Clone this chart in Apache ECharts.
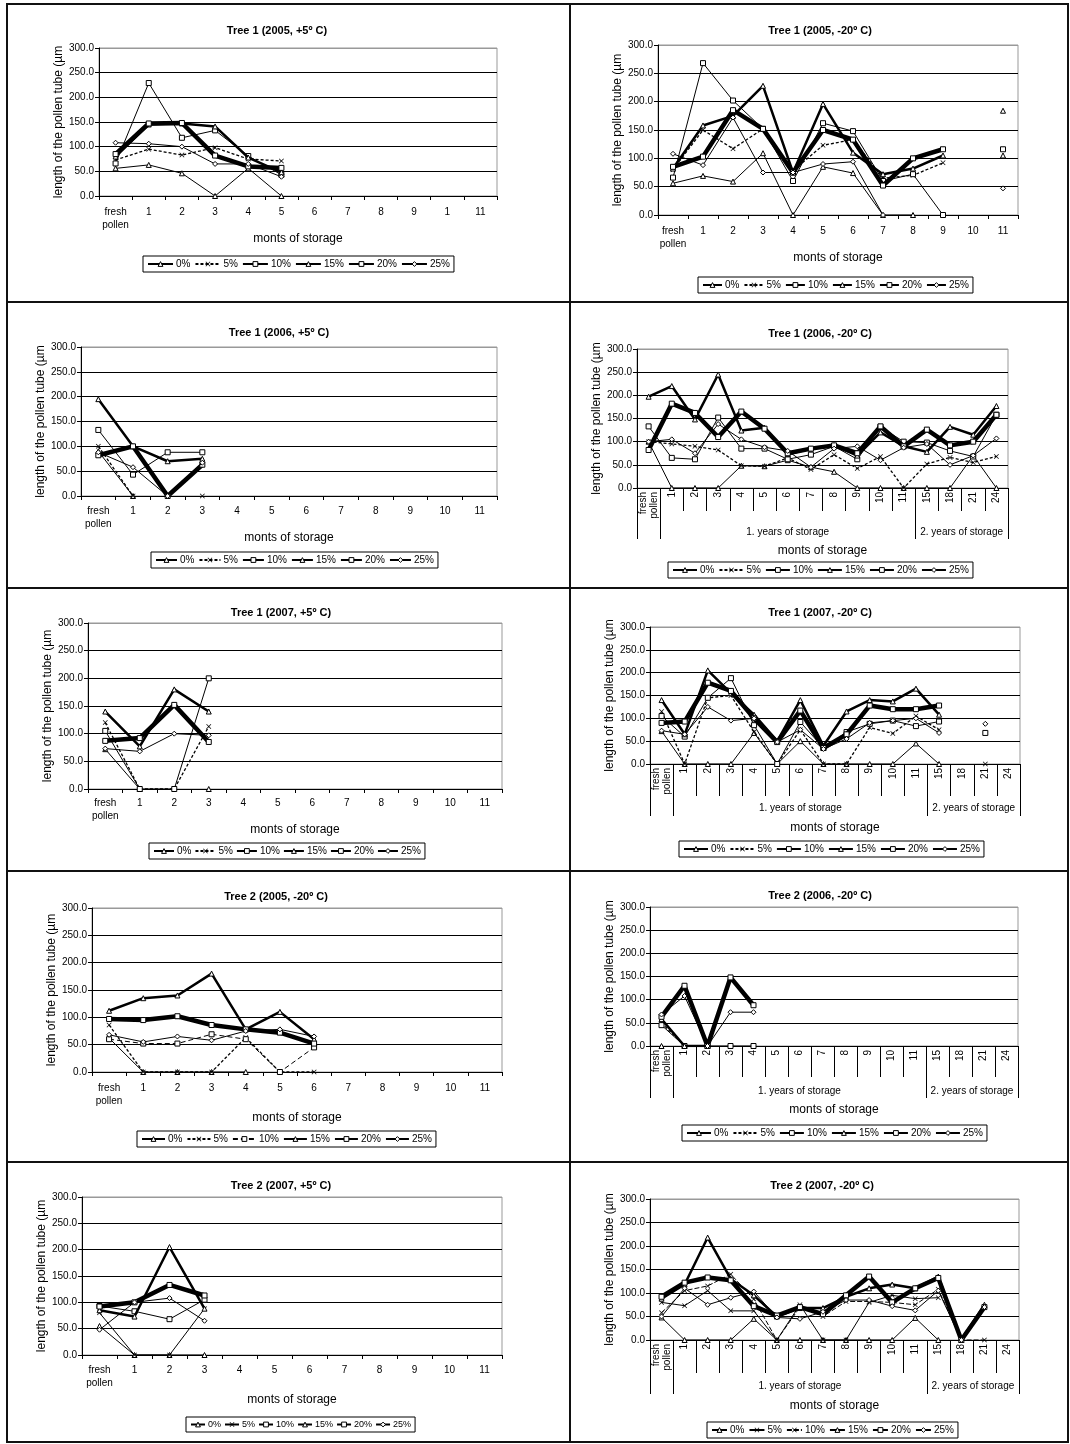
<!DOCTYPE html>
<html><head><meta charset="utf-8">
<script src="https://cdn.jsdelivr.net/npm/echarts@6/dist/echarts.min.js"></script>
<style>html,body{margin:0;padding:0;background:#fff}#c{width:1070px;height:1444px}</style>
</head><body><div id="c"></div>
<script>
// ---------- categories / tick labels ----------
const monthsA = ['fresh\npollen','1','2','3','4','5','6','7','8','9','10','11'];
const monthsTypo = ['fresh\npollen','1','2','3','4','5','6','7','8','9','1','11'];
const monthsLong = ['fresh\npollen','1','2','3','4','5','6','7','8','9','10','11','15','18','21','24'];
const groupLabels = ['1. years of storage','2. years of storage'];
const groupBounds = [0,1,12,16];
const groupCenters = [6.5,14];
const concentrations = ['0%','5%','10%','15%','20%','25%'];

// ---------- Tree 1 (2005, +5) ----------
const p1_0  = [56,63,46,0,56,0];
const p1_5  = [73,95,83,98,75,71];
const p1_10 = [66,229,118,133,81,43];
const p1_15 = [80,145,147,141,78,48];
const p1_20 = [85,147,148,82,60,57];
const p1_25 = [108,106,100,65,65,39];
// ---------- Tree 1 (2005, -20) ----------
const p2_0  = [56,69,59,109,0,85,74,0,0,null,null,184];
const p2_5  = [80,150,117,152,78,123,133,65,70,92,null,null];
const p2_10 = [66,268,202,152,60,162,148,60,72,0,null,116];
const p2_15 = [82,158,175,228,75,196,110,72,82,105,null,105];
const p2_20 = [85,103,185,152,75,150,133,52,100,116,null,null];
const p2_25 = [108,88,172,75,75,90,94,0,null,null,null,47];
// ---------- Tree 1 (2006, +5) ----------
const p3_0  = [90,0,null,null];
const p3_5  = [100,0,null,0];
const p3_10 = [133,43,88,88];
const p3_15 = [195,100,70,75];
const p3_20 = [82,100,0,63];
const p3_25 = [88,58,0,67];
// ---------- Tree 1 (2006, -20) ----------
const p4_0  = [100,0,0,0,48,47,60,45,35,0,0,0,0,0,70,0];
const p4_5  = [100,95,90,82,48,47,65,40,72,42,68,0,52,66,55,68];
const p4_10 = [133,65,62,152,85,85,62,72,90,62,132,100,98,80,68,158];
const p4_15 = [197,220,148,245,124,130,73,85,92,70,120,90,78,132,115,177];
const p4_20 = [82,182,162,110,165,128,75,85,92,75,133,90,126,92,100,158];
const p4_25 = [100,105,75,138,105,88,80,45,85,90,60,87,95,50,70,107];
// ---------- Tree 1 (2007, +5) ----------
const p5_0  = [72,0,null,0];
const p5_5  = [120,0,0,113];
const p5_10 = [105,0,0,200];
const p5_15 = [140,77,180,140];
const p5_20 = [87,92,152,85];
const p5_25 = [73,68,100,97];
// ---------- Tree 1 (2007, -20) ----------
const p6_0  = [72,0,0,0,68,0,50,0,0,0,0,45,0,null,null,null];
const p6_5  = [115,0,145,150,70,0,75,0,0,80,67,105,75,null,0,null];
const p6_10 = [105,60,145,188,85,0,92,35,70,88,95,83,93,null,68,null];
const p6_15 = [140,65,205,155,108,50,140,40,115,140,137,165,108,null,null,null];
const p6_20 = [90,93,178,160,100,48,117,35,65,128,120,120,128,null,null,null];
const p6_25 = [73,65,125,95,100,48,75,33,55,90,95,100,68,null,88,null];
// ---------- Tree 2 (2005, -20) ----------
const p7_0  = [62,0,0,0,0,null,null];
const p7_5  = [86,0,0,0,63,0,0];
const p7_10 = [60,52,52,69,60,0,45];
const p7_15 = [112,135,140,180,78,110,60];
const p7_20 = [97,95,102,86,78,72,52];
const p7_25 = [68,55,65,58,75,78,65];
// ---------- Tree 2 (2006, -20) ----------
const p8_0  = [0];
const p8_5  = [50,0,0];
const p8_10 = [45,0,0,0,0];
const p8_15 = [58,0,0];
const p8_20 = [63,130,0,148,88];
const p8_25 = [68,108,0,73,73];
// ---------- Tree 2 (2007, +5) ----------
const p9_0  = [55,0,0,0];
const p9_5  = [80,0,0,88];
const p9_10 = [93,83,68,105];
const p9_15 = [85,73,205,88];
const p9_20 = [92,100,133,113];
const p9_25 = [48,100,108,65];
// ---------- Tree 2 (2007, -20) ----------
const p10_0  = [48,0,0,0,45,0,0,0,0,0,0,47,0,null,null,null];
const p10_5  = [80,73,105,62,62,0,75,0,0,80,95,88,90,null,null,null];
const p10_10 = [58,105,115,140,87,0,70,50,82,82,80,75,108,0,0,null];
const p10_15 = [88,118,218,130,95,50,68,68,92,110,118,110,135,0,75,null];
const p10_20 = [92,122,133,127,72,52,70,55,95,135,80,110,132,0,70,null];
const p10_25 = [50,110,75,90,103,48,45,60,85,85,72,63,105,0,70,null];

const panels = [
  {title:'Tree 1 (2005, +5º C)', cats:monthsTypo, two:false, data:[p1_0,p1_5,p1_10,p1_15,p1_20,p1_25]},
  {title:'Tree 1 (2005, -20º C)', cats:monthsA, two:false, data:[p2_0,p2_5,p2_10,p2_15,p2_20,p2_25]},
  {title:'Tree 1 (2006, +5º C)', cats:monthsA, two:false, data:[p3_0,p3_5,p3_10,p3_15,p3_20,p3_25]},
  {title:'Tree 1 (2006, -20º C)', cats:monthsLong, two:true, data:[p4_0,p4_5,p4_10,p4_15,p4_20,p4_25]},
  {title:'Tree 1 (2007, +5º C)', cats:monthsA, two:false, data:[p5_0,p5_5,p5_10,p5_15,p5_20,p5_25]},
  {title:'Tree 1 (2007, -20º C)', cats:monthsLong, two:true, data:[p6_0,p6_5,p6_10,p6_15,p6_20,p6_25]},
  {title:'Tree 2 (2005, -20º C)', cats:monthsA, two:false, data:[p7_0,p7_5,p7_10,p7_15,p7_20,p7_25]},
  {title:'Tree 2 (2006, -20º C)', cats:monthsLong, two:true, data:[p8_0,p8_5,p8_10,p8_15,p8_20,p8_25]},
  {title:'Tree 2 (2007, +5º C)', cats:monthsA, two:false, data:[p9_0,p9_5,p9_10,p9_15,p9_20,p9_25]},
  {title:'Tree 2 (2007, -20º C)', cats:monthsLong, two:true, data:[p10_0,p10_5,p10_10,p10_15,p10_20,p10_25]}
];

// ---------- layout (positions/sizes) ----------
const layout = [
  {l:99,t:48,w:398,h:148, tx:272,ty:20, yg:32, xg:36, lm:10, lx:143,ly:256, iw:25, ig:4},
  {l:658,t:45,w:360,h:170, tx:815,ty:20, yg:30, xg:31, lm:10, lx:698,ly:277, iw:19, ig:4},
  {l:81,t:347,w:416,h:149, tx:274,ty:322, yg:28, xg:30, lm:9, lx:151,ly:552, iw:21, ig:4},
  {l:637,t:349,w:371,h:139, tx:815,ty:323, yg:33, xg:57, lm:4, ct:23, gt:51, gm:39, lx:668,ly:562, iw:24, ig:4},
  {l:88,t:623,w:414,h:166, tx:276,ty:602, yg:30, xg:25, lm:8, lx:149,ly:843, iw:20, ig:3},
  {l:650,t:627,w:370,h:137, tx:815,ty:602, yg:33, xg:58, lm:4, ct:32, gt:52, gm:39, lx:679,ly:841, iw:24, ig:4},
  {l:92,t:908,w:410,h:164, tx:271,ty:886, yg:33, xg:40, lm:10, lx:137,ly:1131, iw:23, ig:4},
  {l:650,t:907,w:368,h:139, tx:815,ty:885, yg:34, xg:58, lm:4, ct:31, gt:52, gm:40, lx:682,ly:1125, iw:24, ig:4},
  {l:82,t:1197,w:420,h:158, tx:276,ty:1175, yg:29, xg:39, lm:9, lx:186,ly:1417, iw:14, ig:3},
  {l:650,t:1199,w:369,h:141, tx:817,ty:1175, yg:33, xg:60, lm:4, ct:33, gt:54, gm:41, lx:707,ly:1422, iw:15, ig:4}
];

// ---------- styles ----------
const FONT = '"Liberation Sans", Arial, sans-serif';
const XSYM = 'path://M0,1L1,0L5,4L9,0L10,1L6,5L10,9L9,10L5,6L1,10L0,9L4,5Z';
const baseStyle = [
  {sym:'triangle', w:1, type:'solid'},
  {sym:XSYM, w:1.3, type:[3,2]},
  {sym:'rect', w:1, type:'solid'},
  {sym:'triangle', w:2.5, type:'solid'},
  {sym:'rect', w:4.5, type:'solid'},
  {sym:'diamond', w:1, type:'solid'}
];
const overrides = {
  6: {2:{type:[5,3]}},
  8: {1:{type:'solid', w:1}},
  9: {1:{type:'solid', w:1}, 2:{sym:XSYM, type:[5,2]}}
};

const grids=[], xAxes=[], yAxes=[], series=[], titles=[], legends=[];
const splitColors = ['#000','#000','#000','#000','#000','#000','#999'];

panels.forEach((p,i)=>{
  const L = layout[i];
  grids.push({left:L.l, top:L.t, width:L.w, height:L.h, show:true, borderColor:'#999', borderWidth:1, backgroundColor:'transparent', outerBoundsMode:'none'});
  titles.push({text:p.title, left:L.tx, top:L.ty, textAlign:'center',
    textStyle:{fontFamily:FONT, fontSize:11, fontWeight:'bold', color:'#000'}});
  const xi = xAxes.length;
  xAxes.push({
    type:'category', gridIndex:i, data:p.cats, boundaryGap:true, position:'bottom',
    axisLine:{show:true, lineStyle:{color:'#000', width:1}},
    axisTick:{show:true, interval:0, length:p.two?L.ct:4, lineStyle:{color:'#000'}},
    axisLabel:{interval:0, fontFamily:FONT, fontSize:10, color:'#000', margin:L.lm, lineHeight:p.two?11:13, rotate:p.two?90:0},
    splitLine:{show:false},
    name:'monts of storage', nameLocation:'middle', nameGap:L.xg,
    nameTextStyle:{fontFamily:FONT, fontSize:12, color:'#000'}
  });
  if (p.two) {
    xAxes.push({
      type:'value', gridIndex:i, min:0, max:16, position:'bottom',
      axisLine:{show:false}, splitLine:{show:false},
      axisTick:{show:true, customValues:groupBounds, length:L.gt, lineStyle:{color:'#000'}},
      axisLabel:{show:true, customValues:groupCenters, margin:L.gm, fontFamily:FONT, fontSize:10, color:'#000',
        formatter:(v)=> groupLabels[groupCenters.indexOf(v)] || ''}
    });
  }
  yAxes.push({
    type:'value', gridIndex:i, min:0, max:300, interval:50,
    axisLine:{show:true, lineStyle:{color:'#000'}},
    axisTick:{show:true, length:4, lineStyle:{color:'#000'}},
    axisLabel:{formatter:(v)=>v.toFixed(1), fontFamily:FONT, fontSize:10, color:'#000', margin:5},
    splitLine:{show:true, lineStyle:{color:splitColors, width:1}},
    name:'length of the pollen tube (µm', nameLocation:'middle', nameGap:L.yg,
    nameTextStyle:{fontFamily:FONT, fontSize:12, color:'#000'}
  });
  const legendData = [];
  concentrations.forEach((c,k)=>{
    const st = Object.assign({}, baseStyle[k], (overrides[i]||{})[k]||{});
    const nm = i+'|'+c;
    const isX = st.sym === XSYM;
    const item = isX ? {color:'#000', borderWidth:0} : {color:'#fff', borderColor:'#000', borderWidth:1};
    legendData.push({name:nm, itemStyle:item});
    series.push({
      type:'line', name:nm, xAxisIndex:xi, yAxisIndex:i, data:p.data[k],
      symbol:st.sym, symbolSize:5, showSymbol:true, connectNulls:false,
      lineStyle:{color:'#000', width:st.w, type:st.type},
      itemStyle:item,
      emphasis:{disabled:true}, silent:true, animation:false, z:2+k
    });
  });
  legends.push({
    data:legendData, left:L.lx, top:L.ly, orient:'horizontal', selectedMode:false,
    itemWidth:L.iw, itemHeight:6, itemGap:L.ig, padding:[3,4,3,4],
    borderColor:'#000', borderWidth:1,
    formatter:(n)=>n.split('|')[1],
    textStyle:{fontFamily:FONT, fontSize:i===8?9:10, color:'#000', padding:[0,0,0,-2]}
  });
});

const border = {stroke:'#111', lineWidth:2};
const graphics = [
  {type:'rect', shape:{x:7,y:4,width:1061,height:1438}, style:Object.assign({fill:'none'},border), silent:true},
  {type:'line', shape:{x1:570,y1:4,x2:570,y2:1442}, style:border, silent:true},
  {type:'line', shape:{x1:7,y1:302,x2:1068,y2:302}, style:border, silent:true},
  {type:'line', shape:{x1:7,y1:588,x2:1068,y2:588}, style:border, silent:true},
  {type:'line', shape:{x1:7,y1:871,x2:1068,y2:871}, style:border, silent:true},
  {type:'line', shape:{x1:7,y1:1162,x2:1068,y2:1162}, style:border, silent:true}
];

const chart = echarts.init(document.getElementById('c'), null, {renderer:'canvas'});
chart.setOption({
  backgroundColor:'#fff',
  animation:false,
  title:titles, legend:legends, grid:grids, xAxis:xAxes, yAxis:yAxes, series:series,
  graphic:graphics
});
</script></body></html>
